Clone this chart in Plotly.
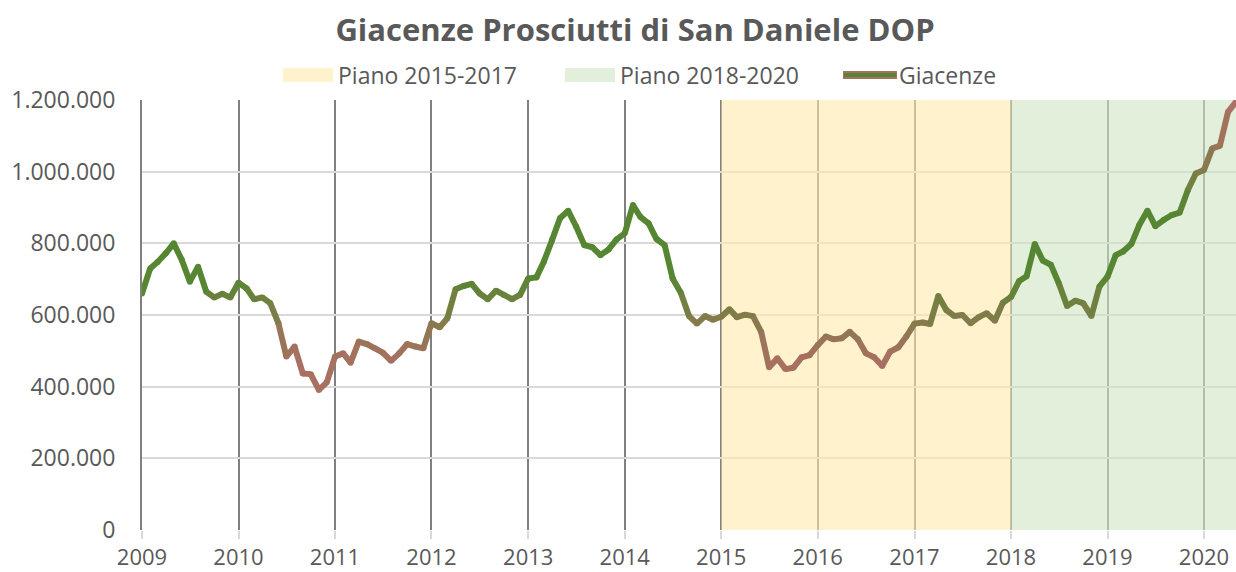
import plotly.graph_objects as go
import pandas as pd

# ---------------- data (thousands of hams, monthly, Jan 2009 - May 2020) ----------------
years = list(range(2009, 2021))
giacenze_2009 = [660, 730, 748, 772, 800, 753, 693, 735, 665, 649, 659, 649]
giacenze_2010 = [690, 674, 644, 649, 633, 577, 484, 512, 437, 435, 391, 412]
giacenze_2011 = [484, 493, 467, 526, 519, 507, 495, 472, 493, 519, 512, 507]
giacenze_2012 = [577, 566, 591, 672, 681, 687, 660, 644, 668, 656, 644, 656]
giacenze_2013 = [702, 705, 749, 809, 870, 891, 847, 795, 789, 767, 783, 811]
giacenze_2014 = [828, 907, 874, 856, 812, 795, 702, 662, 597, 576, 597, 587]
giacenze_2015 = [595, 616, 594, 601, 597, 553, 454, 479, 449, 453, 482, 488]
giacenze_2016 = [516, 540, 532, 535, 553, 532, 493, 482, 458, 498, 510, 540]
giacenze_2017 = [576, 579, 575, 653, 614, 597, 600, 577, 594, 605, 584, 634]
giacenze_2018 = [650, 695, 708, 798, 752, 740, 688, 625, 640, 633, 597, 679]
giacenze_2019 = [707, 767, 777, 798, 851, 891, 848, 865, 879, 886, 949, 995]
giacenze_2020 = [1005, 1065, 1072, 1167, 1195]

giacenze_k = (giacenze_2009 + giacenze_2010 + giacenze_2011 + giacenze_2012 +
              giacenze_2013 + giacenze_2014 + giacenze_2015 + giacenze_2016 +
              giacenze_2017 + giacenze_2018 + giacenze_2019 + giacenze_2020)
giacenze = [v * 1000 for v in giacenze_k]
months = pd.date_range("2009-01-01", periods=len(giacenze), freq="MS")

plan_names = ["Piano 2015-2017", "Piano 2018-2020"]
plan_start = ["2015-01-01", "2018-01-01"]
plan_end = ["2018-01-01", str(months[-1].date())]

y_tickvals = [0, 200000, 400000, 600000, 800000, 1000000, 1200000]
y_ticktext = ["0", "200.000", "400.000", "600.000", "800.000", "1.000.000", "1.200.000"]
x_tickvals = [f"{y}-01-01" for y in years]
x_ticktext = [str(y) for y in years]

# ---------------- style ----------------
FONT = "Open Sans"
TXT = "#595959"
plan_fill = ["rgba(255,233,170,0.6)", "rgba(207,228,193,0.6)"]
plan_swatch = ["#FFF2CC", "#E2EFDA"]
GREEN = (86, 134, 50)
BROWN = (172, 112, 100)
OLIVE = (128, 124, 72)
STOPS = [(0, BROWN), (480e3, (167, 112, 96)), (600e3, OLIVE), (700e3, GREEN),
         (900e3, GREEN), (1000e3, OLIVE), (1150e3, BROWN), (1.3e6, BROWN)]


def color_for(v):
    for (v0, c0), (v1, c1) in zip(STOPS[:-1], STOPS[1:]):
        if v0 <= v <= v1:
            t = (v - v0) / (v1 - v0)
            c = [round(a + (b - a) * t) for a, b in zip(c0, c1)]
            return f"rgb({c[0]},{c[1]},{c[2]})"
    return f"rgb{BROWN}"


W, H = 1236, 572
L, R, T, B = 142, 1236, 100, 530
LW = 6


def px(x):
    return (x - L) / (R - L)


def py(y):
    return (B - y) / (B - T)


fig = go.Figure()

# plan shading
for name, s, e, fc in zip(plan_names, plan_start, plan_end, plan_fill):
    fig.add_trace(go.Scatter(
        x=[s, e, e, s, s], y=[0, 0, 1200000, 1200000, 0],
        fill="toself", fillcolor=fc, mode="none", name=name,
        hoverinfo="skip", showlegend=False))

# joints
fig.add_trace(go.Scatter(
    x=months, y=giacenze, mode="markers",
    marker=dict(size=LW, color=[color_for(v) for v in giacenze], line=dict(width=0)),
    hoverinfo="skip", showlegend=False))

# gradient line, segment by segment
for i in range(len(giacenze) - 1):
    mid = (giacenze[i] + giacenze[i + 1]) / 2
    fig.add_trace(go.Scatter(
        x=[months[i], months[i + 1]], y=[giacenze[i], giacenze[i + 1]],
        mode="lines", line=dict(color=color_for(mid), width=LW),
        name="Giacenze", legendgroup="g", showlegend=False, hoverinfo="skip"))

# custom legend
shapes = []
annotations = []
legend_items = [
    ("rect", plan_swatch[0], 283, 333, plan_names[0], 336),
    ("rect", plan_swatch[1], 565, 615, plan_names[1], 618),
    ("line", None, 843, 897, "Giacenze", 897),
]
for kind, col, x0, x1, label, tx in legend_items:
    if kind == "rect":
        shapes.append(dict(type="rect", xref="paper", yref="paper",
                           x0=px(x0), x1=px(x1), y0=py(82), y1=py(68),
                           fillcolor=col, line=dict(width=0), layer="above"))
    else:
        shapes.append(dict(type="line", xref="paper", yref="paper",
                           x0=px(x0), x1=px(x1), y0=py(75), y1=py(75),
                           line=dict(color="rgb(168,112,96)", width=8), layer="above"))
        shapes.append(dict(type="line", xref="paper", yref="paper",
                           x0=px(x0 + 1), x1=px(x1 - 1), y0=py(75), y1=py(75),
                           line=dict(color="rgb(84,132,52)", width=4), layer="above"))
    annotations.append(dict(text=label, xref="paper", yref="paper", x=px(tx), y=py(75),
                            xanchor="left", yanchor="middle", showarrow=False,
                            font=dict(family=FONT, size=23, color=TXT)))

fig.update_layout(
    width=W, height=H,
    margin=dict(l=L, r=W - R, t=T, b=H - B),
    paper_bgcolor="white", plot_bgcolor="white",
    title=dict(text="Giacenze Prosciutti di San Daniele DOP",
               x=635 / W, xanchor="center", xref="container",
               y=1 - 30 / H, yanchor="middle", yref="container",
               font=dict(family=FONT, size=31, color=TXT, weight="bold")),
    showlegend=False,
    shapes=shapes, annotations=annotations,
    xaxis=dict(type="date", range=[months[0], months[-1]],
               tickmode="array", tickvals=x_tickvals, ticktext=x_ticktext,
               showgrid=True, gridcolor="#808080", gridwidth=2,
               ticks="outside", ticklen=8, tickcolor="#D9D9D9", tickwidth=2,
               ticklabelstandoff=0, automargin=False,
               showline=False, zeroline=False,
               tickfont=dict(family=FONT, size=22, color=TXT)),
    yaxis=dict(range=[0, 1200000], tickmode="array",
               tickvals=y_tickvals, ticktext=y_ticktext,
               showgrid=True, gridcolor="#D9D9D9", gridwidth=2,
               ticks="outside", ticklen=20, tickcolor="rgba(0,0,0,0)",
               showline=True, linecolor="#808080", linewidth=2,
               zeroline=False, automargin=False,
               tickfont=dict(family=FONT, size=23, color=TXT)),
)

fig.write_html("out.html", config={"displayModeBar": False},
               post_script="document.body.style.margin='0';document.body.style.overflow='hidden';")
